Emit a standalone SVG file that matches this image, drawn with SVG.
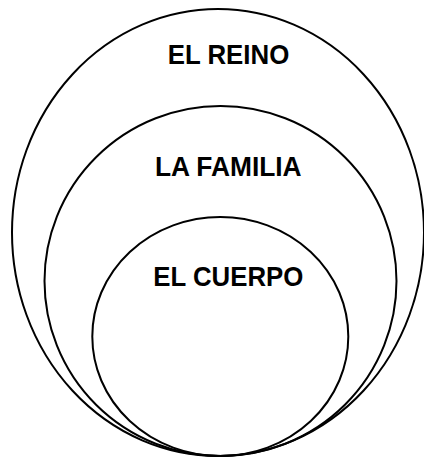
<svg xmlns="http://www.w3.org/2000/svg" width="424" height="459" viewBox="0 0 424 459">
<style>
.ring{fill:none;stroke:#000;stroke-width:2}
.lbl{font-family:"Liberation Sans",Arial,sans-serif;font-size:28px;font-weight:bold;fill:#000;text-anchor:middle}
</style>
<rect width="424" height="459" fill="#fff"/>
<g id="reino">
<ellipse class="ring" cx="218" cy="232.5" rx="206" ry="223.5"/>
<text class="lbl" x="228.5" y="64" textLength="121.6" lengthAdjust="spacingAndGlyphs">EL REINO</text>
</g>
<g id="familia">
<ellipse class="ring" cx="220.5" cy="281" rx="176" ry="175"/>
<text class="lbl" x="228.3" y="175.5" textLength="146.7" lengthAdjust="spacingAndGlyphs">LA FAMILIA</text>
</g>
<g id="cuerpo">
<ellipse class="ring" cx="220.3" cy="336.5" rx="128" ry="119.5"/>
<text class="lbl" x="228.3" y="285.5" textLength="150" lengthAdjust="spacingAndGlyphs">EL CUERPO</text>
</g>
<g id="connectors"/>
</svg>
